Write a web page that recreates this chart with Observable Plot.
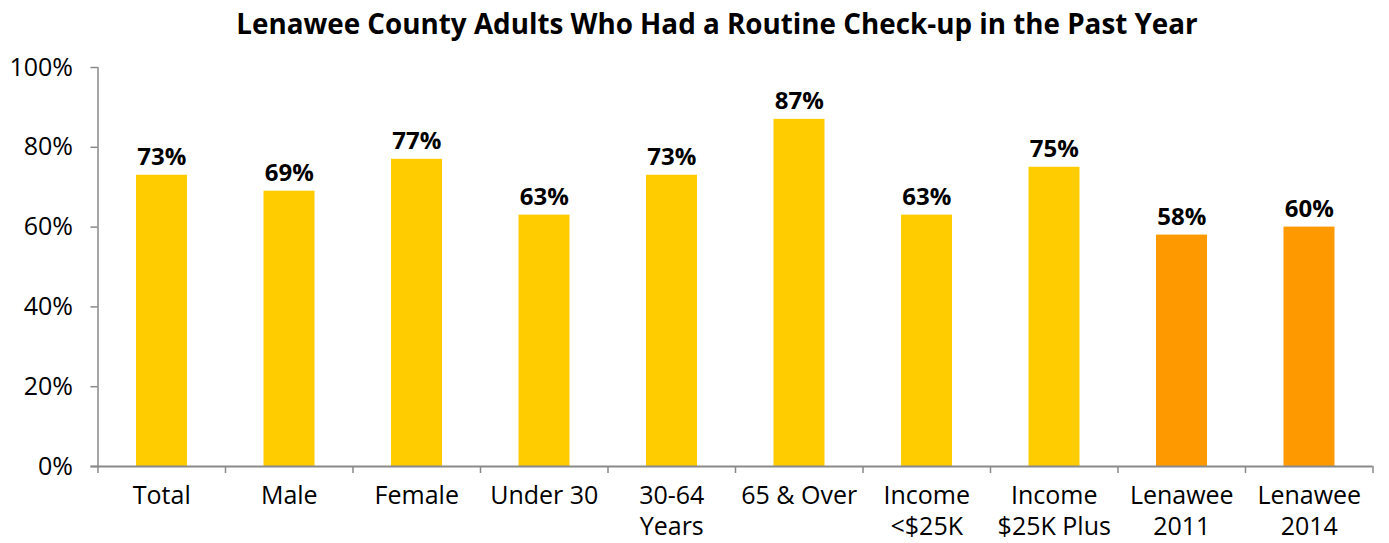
<!DOCTYPE html>
<html><head><meta charset="utf-8">
<script src="https://cdn.jsdelivr.net/npm/d3@7"></script>
<script src="https://cdn.jsdelivr.net/npm/@observablehq/plot@0.6"></script>
<style>
body{margin:0;background:#fff;font-family:"Open Sans",sans-serif;}
#title{height:50px;line-height:46px;text-align:center;font-weight:bold;font-size:27.8px;color:#000;padding-left:45px;box-sizing:border-box;width:1389px;white-space:nowrap;}
</style></head><body>
<div id="title">Lenawee County Adults Who Had a Routine Check-up in the Past Year</div>
<div id="chart"></div>
<script>
const categories = ["Total","Male","Female","Under 30","30-64\nYears","65 & Over","Income\n<$25K","Income\n$25K Plus","Lenawee\n2011","Lenawee\n2014"];
const values = [73,69,77,63,73,87,63,75,58,60];
const groups = ["sub","sub","sub","sub","sub","sub","sub","sub","county","county"];
const yTicks = [0,20,40,60,80,100];

const data = categories.map((c,i)=>({i, c, v: values[i], g: groups[i]}));
const bounds = d3.range(categories.length+1);
const gray = "#898989";

const chart = Plot.plot({
  width: 1389, height: 493,
  marginTop: 17, marginBottom: 77, marginLeft: 97.5, marginRight: 16.5,
  style: {fontFamily: "'Open Sans', sans-serif", background: "#fff"},
  x: {domain: [0, categories.length], axis: null},
  y: {domain: [0, 100], axis: null, label: null},
  color: {domain: ["sub","county"], range: ["#FFCC00","#FF9900"]},
  marks: [
    Plot.rectY(data, {x1: d=>d.i, x2: d=>d.i+1, y: "v", fill: "g", insetLeft: 38.5, insetRight: 38}),
    Plot.text(data, {x: d=>d.i+0.5, y: "v", text: d=>d.v+"%", lineAnchor: "bottom", dy: -10, fontSize: 24, fontWeight: "bold", fill: "#000"}),
    Plot.ruleX([0], {y1: 0, y2: 100, stroke: gray, strokeWidth: 1.5}),
    Plot.ruleY([0], {stroke: gray, strokeWidth: 2, insetLeft: -7}),
    Plot.ruleX(bounds, {x: d=>d, y1: 0, y2: 0, insetBottom: -7, stroke: gray, strokeWidth: 1.5}),
    Plot.axisY({ticks: yTicks, tickFormat: d=>d+"%", tickSize: 7, tickPadding: 18, stroke: gray, fontSize: 25, fill: "#000", strokeWidth: 1.5, label: null}),
    Plot.text(data, {x: d=>d.i+0.5, y: 0, text: "c", lineAnchor: "top", dy: 15, fontSize: 25, lineHeight: 1.24, fill: "#000"})
  ]
});
document.getElementById("chart").appendChild(chart);
</script>
</body></html>
